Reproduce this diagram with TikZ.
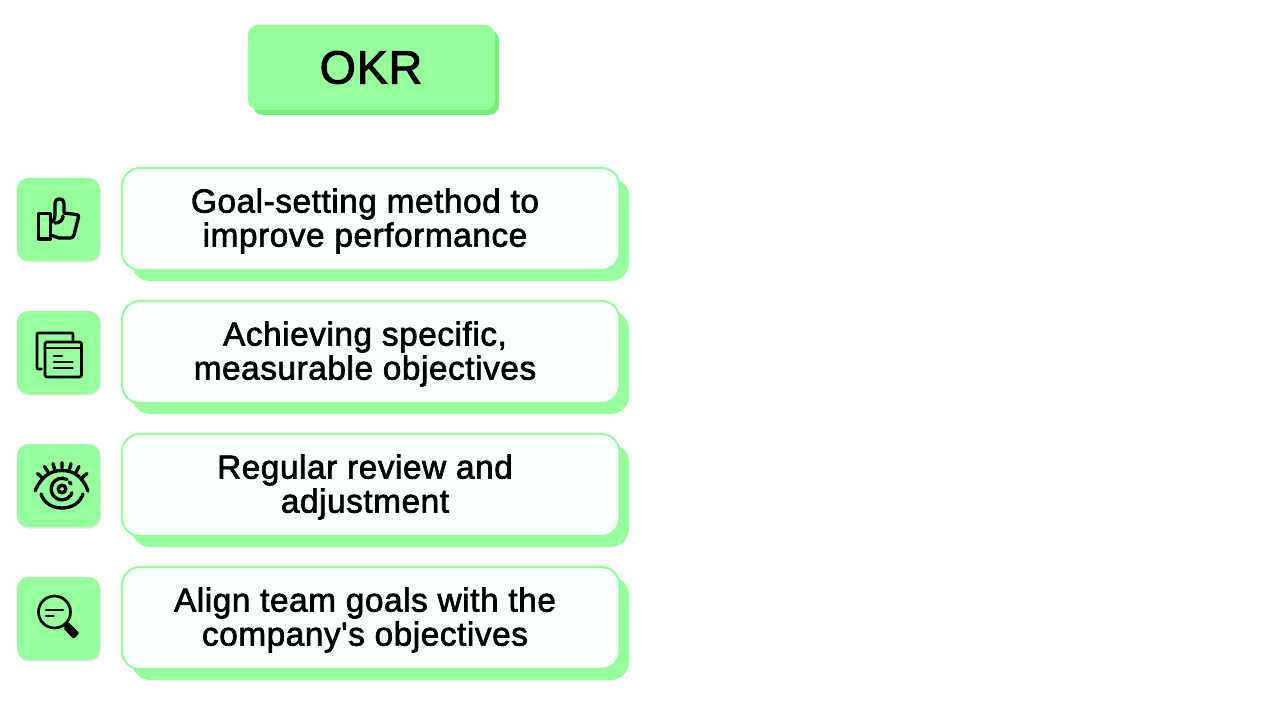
\documentclass[tikz,border=0pt]{standalone}
\usepackage{fontspec}
\setmainfont{Liberation Sans}[FakeBold=2,Ligatures=TeXOff,LetterSpace=1.7]
\definecolor{lgreen}{HTML}{96FF9C}
\definecolor{dgreen}{HTML}{72EE7A}
\definecolor{cardfill}{HTML}{FAFFFF}
\definecolor{softshadow}{HTML}{E2E8E2}
\tikzset{
  px/.style={x=0.75pt,y=-0.75pt},
  cardshadow/.style={fill=lgreen,rounded corners=13.5pt},
  card/.style={fill=cardfill,draw=lgreen,line width=1.6pt,rounded corners=13.5pt},
  tile/.style={fill=lgreen,rounded corners=8.5pt},
  tileshadow/.style={fill=softshadow,rounded corners=8.5pt},
  cardtext/.style={font=\fontsize{25pt}{25.5pt}\selectfont,align=center,text=black,inner sep=0pt},
  ico/.style={draw=black,line width=2.5pt,line cap=round,line join=round,fill=none},
  icothin/.style={ico,line width=2pt}
}
\begin{document}
\begin{tikzpicture}[px]
\useasboundingbox[fill=white] (0,0) rectangle (1288,709);
% title
\path[fill=dgreen,rounded corners=7.5pt] (253,30) rectangle (499,115);
\path[fill=lgreen,rounded corners=7.5pt] (248,25) rectangle (495,110);
\node[font=\fontsize{35pt}{40pt}\selectfont,inner sep=0pt] (title) at (371,67.5) {OKR};
% rows
\foreach \i/\t in {0/{Goal-setting method to\\improve performance},1/{Achieving specific,\\measurable objectives},2/{Regular review and\\adjustment},3/{Align team goals with the\\company's objectives}}{
  \begin{scope}[yshift=-\i*133*0.75pt]
  \path[tileshadow] (17.5,179.5) rectangle (101,262.5);
  \path[tile] (17,178) rectangle (100,261);
  \path[cardshadow] (132,178) rectangle (629,281);
  \path[card] (122,168) rectangle (619.5,270);
  \node[cardtext] (text\i) at (365,221) {\t};
  \end{scope}
}
% thumb icon
\draw[ico] (38.5,213.5) rectangle (50.5,239);
\draw[ico] (52,222) .. controls (55,219) and (55,216) .. (55,214) -- (55,203) .. controls (55,197.5) and (64,197.5) .. (64,203) -- (64,213) -- (76,214.5) .. controls (78,214.5) and (79,215.5) .. (78.5,217) -- (74,235) .. controls (73.5,237) and (72,238) .. (70,238) -- (59,238) -- (52,235.5);
\draw[ico] (63,216) .. controls (63,220) and (60,223) .. (55,223);
% documents icon
\draw[icothin] (41.5,369) -- (38,369) .. controls (37,369) and (37,368) .. (37,367) -- (37,335) .. controls (37,334) and (37,333) .. (38,333) -- (72,333) .. controls (73,333) and (73,334) .. (73,335) -- (73,340);
\draw[icothin,rounded corners=1.5pt] (45,342) rectangle (81.5,377);
\draw[icothin] (45,348) -- (81.5,348);
\draw[icothin] (54,356) -- (62,356) (54,362) -- (72.5,362) (54,368) -- (72.5,368);
% eye icon
\draw[ico] (35,491) .. controls (41,477) and (50,470.5) .. (62,470.5) .. controls (74,470.5) and (83,477) .. (88,491);
\draw[ico] (41,494) .. controls (44,503) and (52,508) .. (62,508) .. controls (72,508) and (80,503) .. (83,494);
\draw[ico] (67,479.5) arc[start angle=-62,end angle=-340,radius=10.8];
\draw[ico] (69.5,482) -- (71,484);
\draw[ico] (62,489) circle[radius=3.8];
\draw[ico] (37.5,473.5) -- (42.5,478) (44.5,466.5) -- (48,472) (53,463.5) -- (54.5,469) (62,462.5) -- (62,468) (71,463.5) -- (69.5,469) (79,466.5) -- (76,472) (87,473.5) -- (82,478);
% magnifier icon
\draw[icothin] (54.5,612) circle[radius=16];
\draw[ico,line width=1.8pt] (46,610) -- (63,610) (46,616) -- (53.5,616);
\draw[icothin] (65,624) -- (68,627);
\path[fill=black,rounded corners=1.5pt] (68.5,622) -- (79.5,633) -- (73.5,639) -- (63,628) -- cycle;
\end{tikzpicture}
\end{document}
